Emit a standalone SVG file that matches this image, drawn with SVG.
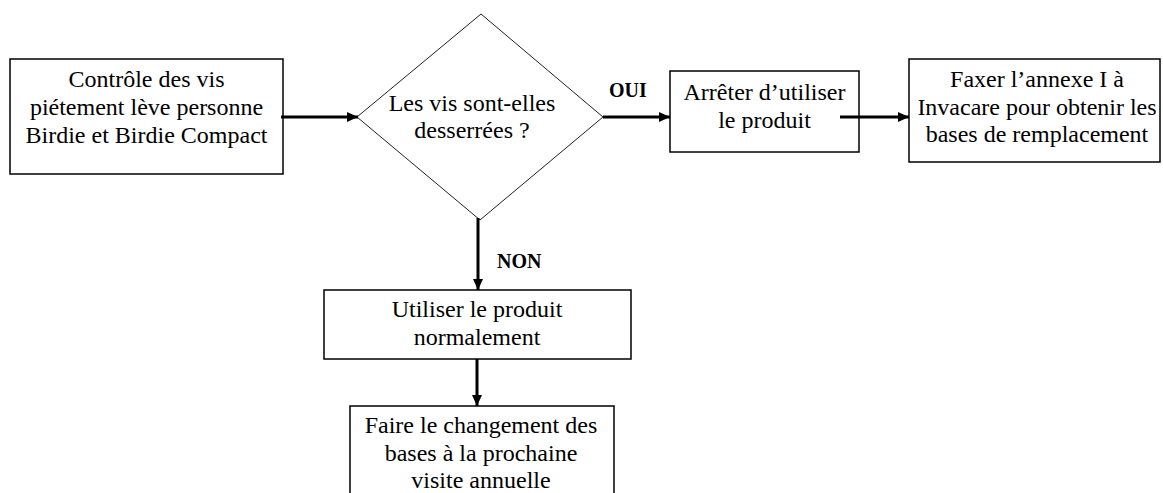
<svg xmlns="http://www.w3.org/2000/svg" width="1163" height="493" viewBox="0 0 1163 493">
<style>
.box{fill:#fff;stroke:#000;stroke-width:1.5}
.dia{fill:#fff;stroke:#222;stroke-width:1}
.t{font-family:"Liberation Serif","Times New Roman",serif;font-size:24px;fill:#000;text-anchor:middle}
.lb{font-family:"Liberation Serif","Times New Roman",serif;font-size:20px;font-weight:bold;fill:#000}
.c{stroke:#000;stroke-width:3;fill:none;marker-end:url(#ah)}
</style>
<defs>
<marker id="ah" markerUnits="userSpaceOnUse" markerWidth="12" markerHeight="12" refX="11" refY="5" orient="auto">
<path d="M0,0 L11,5 L0,10 Z" fill="#000"/>
</marker>
</defs>
<rect width="1163" height="493" fill="#fff"/>
<g id="n1">
<rect class="box" x="10" y="59" width="273" height="115"/>
<text class="t" x="146.5" y="87">Contrôle des vis</text>
<text class="t" x="146.5" y="115">piétement lève personne</text>
<text class="t" x="146.5" y="143">Birdie et Birdie Compact</text>
</g>
<g id="n2">
<polygon class="dia" points="481,14 603,117 480,220 357,117"/>
<text class="t" x="472" y="111">Les vis sont-elles</text>
<text class="t" x="472" y="138">desserrées ?</text>
</g>
<g id="n3">
<rect class="box" x="670" y="71" width="189" height="81"/>
<text class="t" x="764.5" y="100">Arrêter d’utiliser</text>
<text class="t" x="764.5" y="128">le produit</text>
</g>
<g id="n4">
<rect class="box" x="909" y="59" width="251" height="103"/>
<text class="t" x="1037" y="87">Faxer l’annexe I à</text>
<text class="t" x="1037" y="115">Invacare pour obtenir les</text>
<text class="t" x="1037" y="142">bases de remplacement</text>
</g>
<g id="n5">
<rect class="box" x="324" y="290" width="307" height="69"/>
<text class="t" x="477" y="317">Utiliser le produit</text>
<text class="t" x="477" y="345">normalement</text>
</g>
<g id="n6">
<rect class="box" x="350" y="406" width="264" height="100"/>
<text class="t" x="481" y="433">Faire le changement des</text>
<text class="t" x="481" y="461">bases à la prochaine</text>
<text class="t" x="481" y="488">visite annuelle</text>
</g>
<g id="connectors">
<line class="c" x1="281" y1="117" x2="358" y2="117"/>
<line class="c" x1="603" y1="117" x2="670" y2="117"/>
<line class="c" x1="840" y1="117" x2="909" y2="117"/>
<line class="c" x1="478" y1="218" x2="478" y2="290"/>
<line class="c" x1="477" y1="359" x2="477" y2="406"/>
<text class="lb" x="609" y="97">OUI</text>
<text class="lb" x="497" y="268">NON</text>
</g>
</svg>
